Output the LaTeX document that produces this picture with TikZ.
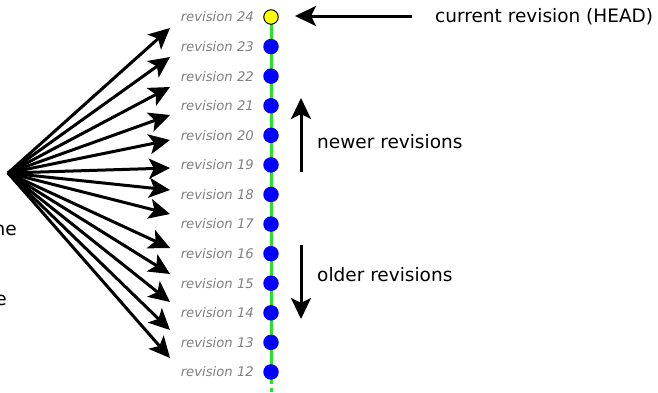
\documentclass[tikz,border=0pt]{standalone}
\usepackage{fontspec}
\setmainfont{DejaVu Sans}
\usetikzlibrary{arrows.meta}
\definecolor{revgreen}{RGB}{40,225,40}
\definecolor{revblue}{RGB}{0,0,255}
\definecolor{revyellow}{RGB}{255,255,0}
\definecolor{revgray}{RGB}{128,128,128}
\begin{document}
\begin{tikzpicture}[x=1pt,y=-1pt,
  arr/.style={line width=3pt,-{Stealth[length=21pt,width=20pt,inset=5pt]}},
  revdot/.style={circle,fill=revblue,minimum size=15.5pt,inner sep=0pt},
  headdot/.style={circle,fill=revyellow,draw=black,line width=1pt,minimum size=14.5pt,inner sep=0pt},
  revlab/.style={anchor=east,inner sep=0pt,text=revgray,font=\fontsize{13.2}{15}\selectfont\itshape},
  bigtxt/.style={inner sep=0pt,font=\fontsize{18.5}{22}\selectfont}]
\useasboundingbox (0,0) rectangle (658,392);
% green trunk
\coordinate (gtop) at (271,17);
\coordinate (gend) at (271,384);
\coordinate (gd1) at (271,388);
\coordinate (gd2) at (271,392);
\draw[revgreen,line width=3pt] (gtop) -- (gend);
\draw[revgreen,line width=3pt] (gd1) -- (gd2);
% revisions
\foreach \n in {12,...,23}{
  \pgfmathsetmacro{\yy}{17+(24-\n)*29.58}
  \node[revdot] (r\n) at (271,\yy) {};
  \node[revlab] (l\n) at (254,\yy) {revision \n};
}
\node[headdot] (r24) at (271,17) {};
\node[revlab] (l24) at (254,17) {revision 24};
% fan of arrows
\coordinate (src) at (8,173);
\foreach \t [count=\i] in {28,57,87,115,140,168,190,214,248,274,302,330,358}{
  \coordinate (t\i) at (170,\t);
  \draw[arr] (src) -- (t\i);
}
% cut-off labels at the left edge
\node[bigtxt,anchor=east] (cut1) at (17,230) {ne};
\node[bigtxt,anchor=east] (cut2) at (7,300) {e};
% HEAD arrow
\node[bigtxt,anchor=west] (head) at (435,17) {current revision (HEAD)};
\coordinate (hs) at (412,16);
\coordinate (ht) at (295,16);
\draw[arr] (hs) -- (ht);
% newer / older
\coordinate (ns) at (301,172);
\coordinate (nt) at (301,98);
\draw[arr] (ns) -- (nt);
\node[bigtxt,anchor=west] (newer) at (317,142) {newer revisions};
\coordinate (os) at (301,245);
\coordinate (ot) at (301,319);
\draw[arr] (os) -- (ot);
\node[bigtxt,anchor=west] (older) at (317,275) {older revisions};
\end{tikzpicture}
\end{document}
